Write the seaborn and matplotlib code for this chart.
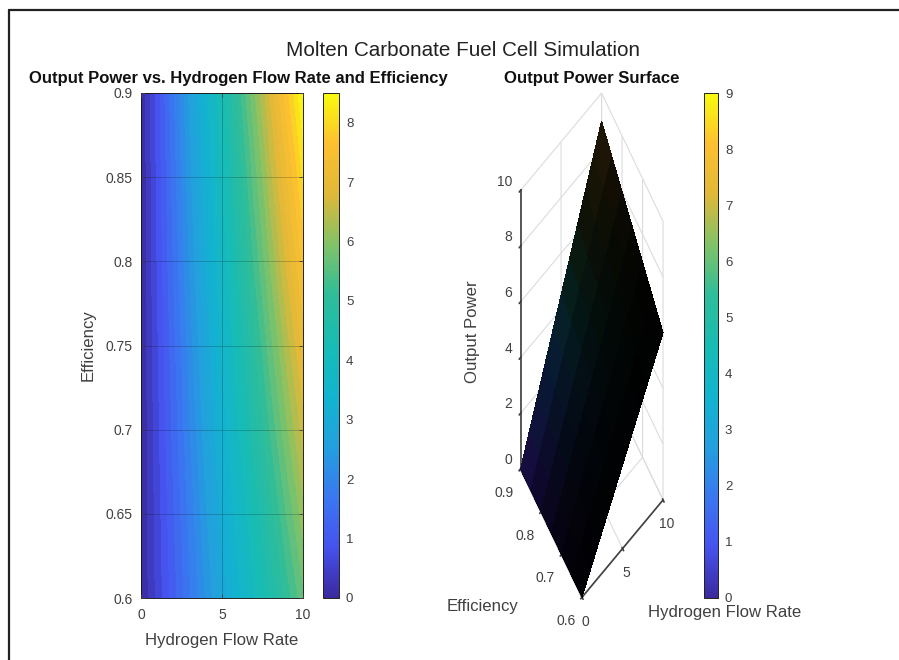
import numpy as np
import matplotlib
matplotlib.use('Agg')
import matplotlib.pyplot as plt
from matplotlib.lines import Line2D
from matplotlib.cm import ScalarMappable
from matplotlib.colors import Normalize
import seaborn as sns

sns.set_theme(style='white')
plt.rcParams['font.family'] = ['Liberation Sans', 'DejaVu Sans']

W, H = 899, 660

# values
flow_rate = [0, 1, 2, 3, 4, 5, 6, 7, 8, 9, 10]
efficiency = [0.6, 0.7, 0.8, 0.9]
surface_efficiency = [0.6, 0.65, 0.7, 0.75, 0.8, 0.85, 0.9]

# left panel
power_map = [
    [0, 0.57, 1.13, 1.70, 2.27, 2.83, 3.40, 3.97, 4.53, 5.10, 5.67],
    [0, 0.66, 1.32, 1.98, 2.64, 3.31, 3.97, 4.63, 5.29, 5.95, 6.61],
    [0, 0.76, 1.51, 2.27, 3.02, 3.78, 4.53, 5.29, 6.04, 6.80, 7.56],
    [0, 0.85, 1.70, 2.55, 3.40, 4.25, 5.10, 5.95, 6.80, 7.65, 8.50],
]
# right panel
power_surface = [
    [0, 0.60, 1.20, 1.80, 2.40, 3.00, 3.60, 4.20, 4.80, 5.40, 6.00],
    [0, 0.65, 1.30, 1.95, 2.60, 3.25, 3.90, 4.55, 5.20, 5.85, 6.50],
    [0, 0.70, 1.40, 2.10, 2.80, 3.50, 4.20, 4.90, 5.60, 6.30, 7.00],
    [0, 0.75, 1.50, 2.25, 3.00, 3.75, 4.50, 5.25, 6.00, 6.75, 7.50],
    [0, 0.80, 1.60, 2.40, 3.20, 4.00, 4.80, 5.60, 6.40, 7.20, 8.00],
    [0, 0.85, 1.70, 2.55, 3.40, 4.25, 5.10, 5.95, 6.80, 7.65, 8.50],
    [0, 0.90, 1.80, 2.70, 3.60, 4.50, 5.40, 6.30, 7.20, 8.10, 9.00],
]
# how much colour shows through the mesh edges, by efficiency row
surface_shade = [0.06, 0.12, 0.22, 0.36, 0.55, 0.78, 1.0]

eff_ticks = [0.6, 0.65, 0.7, 0.75, 0.8, 0.85, 0.9]
eff_tick_labels = ['0.6', '0.65', '0.7', '0.75', '0.8', '0.85', '0.9']

parula_colors = ['#3a2a9e', '#4652ee', '#3a78f0', '#23a0de', '#12b4cf', '#18bcb4',
                 '#2ebd9a', '#80c268', '#e0b838', '#fdc030', '#f9fb0e']
parula = sns.blend_palette(parula_colors, n_colors=256, as_cmap=True)
# mesh edges nearly hide the surface colours
parula_dark = sns.blend_palette(['#1a1150', '#0e1c44', '#07283a', '#08261e', '#141808',
                                 '#241a06', '#33240a'], n_colors=256, as_cmap=True)

text_color = '#404040'


def rect(x0, y0, x1, y1):
    # pixel box (y from the top) to figure fractions
    return [x0 / W, 1 - y1 / H, (x1 - x0) / W, (y1 - y0) / H]


fig = plt.figure(figsize=(W / 100, H / 100), dpi=100)

fig.add_artist(Line2D([9 / W, 1], [1 - 9.5 / H, 1 - 9.5 / H], color='#222222', lw=1.6))
fig.add_artist(Line2D([9 / W, 9 / W], [0, 1 - 9.5 / H], color='#222222', lw=1.6))

fig.text(463 / W, 1 - 50 / H, 'Molten Carbonate Fuel Cell Simulation',
         ha='center', va='center', fontsize=14.9, color='#222222')

# left panel
ax1 = fig.add_axes(rect(141, 93, 303, 598))
ax1.contourf(flow_rate, efficiency, power_map, levels=36, cmap=parula, vmin=0, vmax=8.5)
ax1.set_xlim(0, 10)
ax1.set_ylim(0.6, 0.9)
ax1.set_xticks([0, 5, 10])
ax1.set_yticks(eff_ticks)
ax1.set_yticklabels(eff_tick_labels)
ax1.grid(True, color='black', alpha=0.2, lw=0.7)
ax1.set_axisbelow(False)
ax1.tick_params(direction='in', length=3, width=0.6, colors=text_color, labelsize=10,
                top=True, right=True, bottom=True, left=True, labelcolor=text_color)
ax1.tick_params(axis='x', pad=7)
ax1.tick_params(axis='y', pad=6)
for spine in ax1.spines.values():
    spine.set_color('#222222')
    spine.set_linewidth(0.7)
ax1.set_xlabel('Hydrogen Flow Rate', fontsize=12.1, color=text_color, labelpad=8)
ax1.set_ylabel('Efficiency', fontsize=12.1, color=text_color, labelpad=7)
fig.text(238.5 / W, 1 - 78 / H, 'Output Power vs. Hydrogen Flow Rate and Efficiency',
         ha='center', va='center', fontsize=12, fontweight='bold', color='#111111')

cax1 = fig.add_axes(rect(323, 93, 339, 598))
cb1 = fig.colorbar(ScalarMappable(Normalize(0, 8.5), parula), cax=cax1)
cb1.set_ticks(range(0, 9))
cb1.ax.tick_params(direction='in', length=3, width=0.6, labelsize=9.5, colors=text_color, pad=5)
cb1.outline.set_edgecolor('#222222')
cb1.outline.set_linewidth(0.7)

# right panel, stretched like the original 3d box
ax2 = fig.add_axes(rect(504, 82, 675, 623), projection='3d', proj_type='ortho')
ax2.apply_aspect = lambda position=None: None
ax2.set_box_aspect((1, 1, 1))
ax2.view_init(elev=30, azim=-127.2)
ax2.patch.set_alpha(0)

X, Y = np.meshgrid(flow_rate, surface_efficiency)
Z = np.array(power_surface)
face_colors = parula_dark(Normalize(0, 9)(Z))
face_colors[..., :3] *= np.array(surface_shade)[:, None, None]
ax2.plot_surface(X, Y, Z, facecolors=face_colors, shade=False,
                 rstride=1, cstride=1, linewidth=0, antialiased=False)
ax2.set_xlim(0, 10)
ax2.set_ylim(0.6, 0.9)
ax2.set_zlim(0, 10)
ax2.set_xticks([0, 5, 10])
ax2.set_yticks([0.6, 0.7, 0.8, 0.9])
ax2.set_zticks([0, 2, 4, 6, 8, 10])
ax2.set_xticklabels(['0', '5', '10'], va='center')
ax2.set_yticklabels(['0.6', '0.7', '0.8', '0.9'], ha='right', va='bottom')
ax2.set_zticklabels(['0', '2', '4', '6', '8', '10'], ha='right', va='bottom')
ax2.tick_params(labelsize=10, colors=text_color, pad=0)
ax2.tick_params(axis='y', pad=3)
for axis in (ax2.xaxis, ax2.yaxis, ax2.zaxis):
    axis.set_pane_color((1, 1, 1, 0))
    axis._axinfo['grid'].update(color='#dcdcdc', linewidth=0.8)
    axis._axinfo['axisline']['color'] = '#444444'
    axis._axinfo['tick']['color'] = '#444444'
    axis.line.set_color('#444444')

fig.text(483 / W, 1 - 606 / H, 'Efficiency', ha='center', va='center',
         fontsize=12.1, color=text_color)
fig.text(725 / W, 1 - 613 / H, 'Hydrogen Flow Rate', ha='center', va='center',
         fontsize=12.1, color=text_color)
fig.text(473 / W, 1 - 332 / H, 'Output Power', ha='center', va='center', rotation=90,
         fontsize=12.1, color=text_color)
fig.text(592 / W, 1 - 78 / H, 'Output Power Surface', ha='center', va='center',
         fontsize=12.1, fontweight='bold', color='#111111')

cax2 = fig.add_axes(rect(704, 93, 718, 598))
cb2 = fig.colorbar(ScalarMappable(Normalize(0, 9), parula), cax=cax2)
cb2.set_ticks(range(0, 10))
cb2.ax.tick_params(direction='in', length=3, width=0.6, labelsize=9.5, colors=text_color, pad=5)
cb2.outline.set_edgecolor('#222222')
cb2.outline.set_linewidth(0.7)

fig.savefig('out.png', dpi=100)
